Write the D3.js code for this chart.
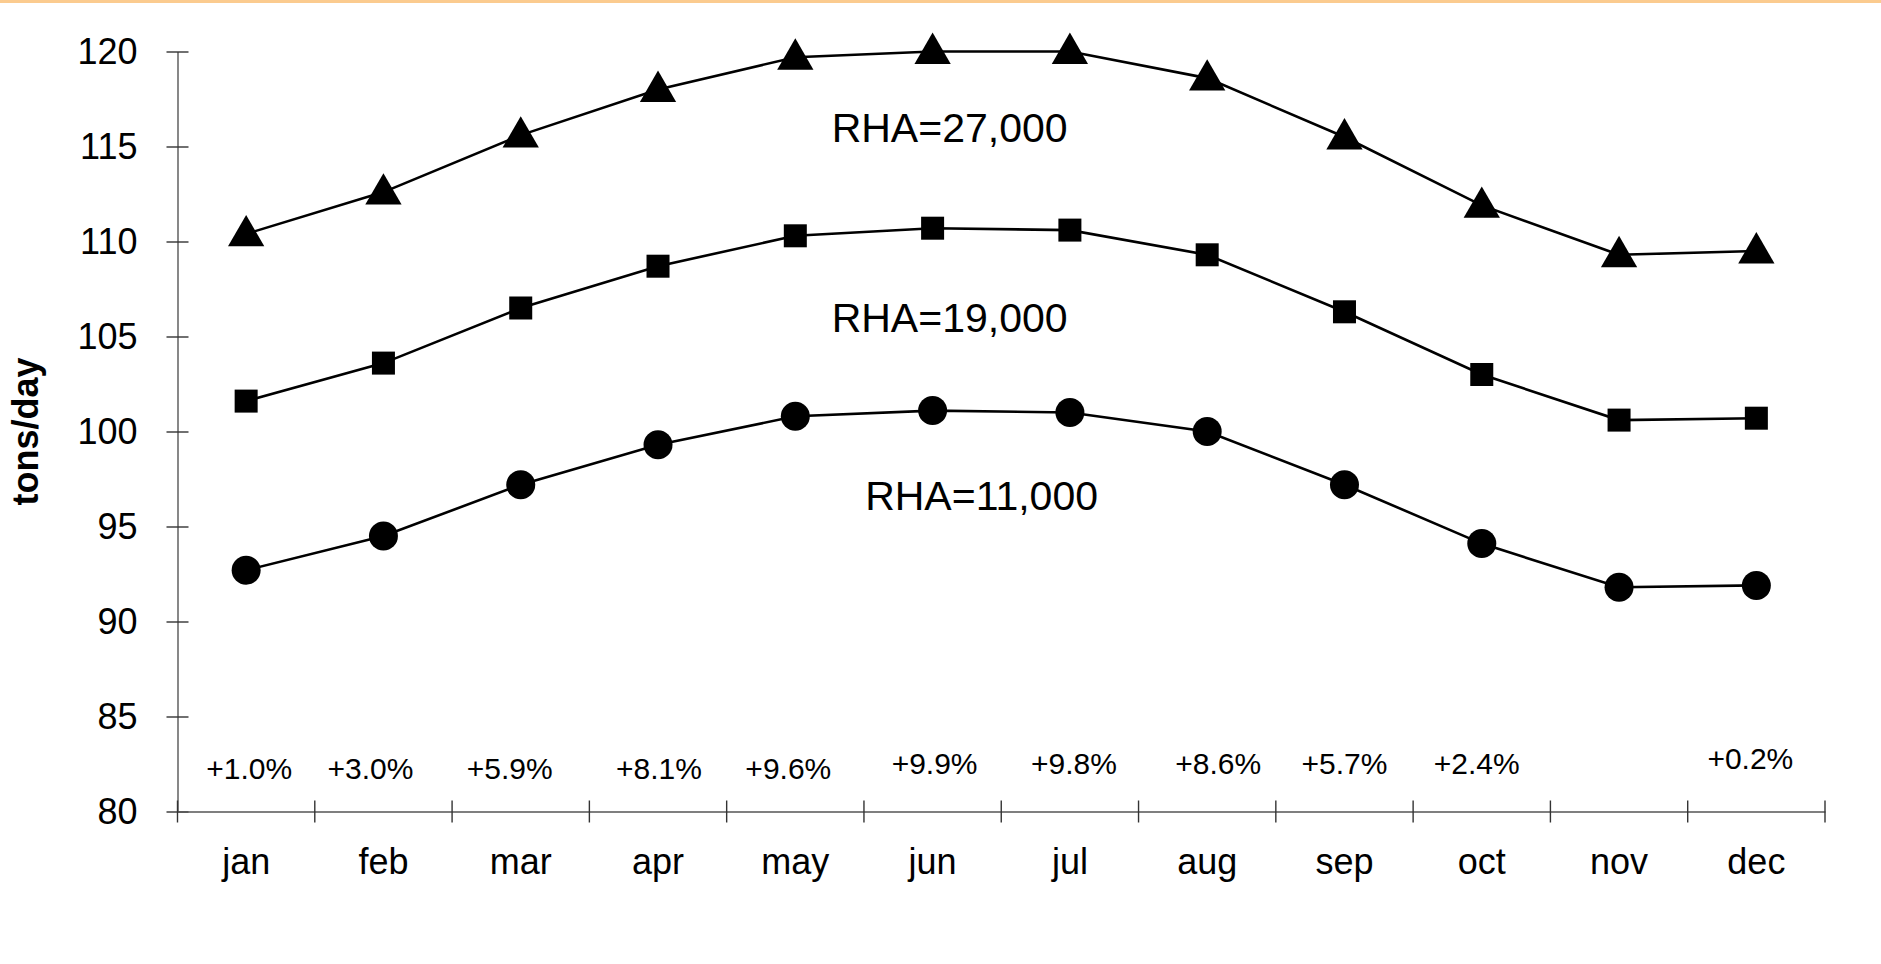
<!DOCTYPE html>
<html>
<head>
<meta charset="utf-8">
<script src="https://cdn.jsdelivr.net/npm/d3@7/dist/d3.min.js"></script>
<style>
  html, body { margin: 0; padding: 0; background: #fff; }
  svg { display: block; font-family: Arial, "Liberation Sans", sans-serif; }
</style>
</head>
<body>
<svg id="chart" width="1881" height="964"></svg>
<script>
const months = ["jan","feb","mar","apr","may","jun","jul","aug","sep","oct","nov","dec"];
const rha27000 = [110.4, 112.6, 115.6, 118.0, 119.7, 120.0, 120.0, 118.6, 115.5, 111.9, 109.3, 109.5];
const rha19000 = [101.6, 103.6, 106.5, 108.7, 110.3, 110.7, 110.6, 109.3, 106.3, 103.0, 100.6, 100.7];
const rha11000 = [92.7, 94.5, 97.2, 99.3, 100.8, 101.1, 101.0, 100.0, 97.2, 94.1, 91.8, 91.9];
const pctLabels = ["+1.0%","+3.0%","+5.9%","+8.1%","+9.6%","+9.9%","+9.8%","+8.6%","+5.7%","+2.4%","","+0.2%"];
const yTicks = [80, 85, 90, 95, 100, 105, 110, 115, 120];
const seriesNames = ["RHA=27,000", "RHA=19,000", "RHA=11,000"];

(function () {
const svg = d3.select("#chart");
const W = 1881, H = 964;

// top orange rule
svg.append("rect").attr("x", 0).attr("y", 0).attr("width", W).attr("height", 3).attr("fill", "#FBCB8F");

const mLeft = 177.5, mRight = 1825, mTop = 51.5, mBottom = 811.5;

const x = d3.scaleBand().domain(months).range([mLeft, mRight]).padding(0);
const y = d3.scaleLinear().domain([80, 120]).range([mBottom, mTop]);
const cx = m => x(m) + x.bandwidth() / 2;

// Y axis
const yAxis = svg.append("g").attr("transform", `translate(${mLeft},0)`)
  .call(d3.axisLeft(y).tickValues(yTicks).tickSize(0).tickPadding(40));
yAxis.select(".domain").attr("stroke", "#555").attr("stroke-width", 1.4);
yAxis.selectAll(".tick text").attr("font-size", 36).attr("fill", "#000")
  .attr("font-family", "Arial, 'Liberation Sans', sans-serif");
yAxis.selectAll(".tick").append("line")
  .attr("x1", -11).attr("x2", 11).attr("y1", 0).attr("y2", 0)
  .attr("stroke", "#333").attr("stroke-width", 1.4);

// X axis
const xAxis = svg.append("g").attr("transform", `translate(0,${mBottom})`)
  .call(d3.axisBottom(x).tickSize(0).tickPadding(37));
xAxis.select(".domain").attr("stroke", "#555").attr("stroke-width", 1.4);
xAxis.selectAll(".tick text").attr("font-size", 36).attr("fill", "#000")
  .attr("font-family", "Arial, 'Liberation Sans', sans-serif");
const bounds = months.map(m => x(m)).concat([mRight]);
xAxis.selectAll(".bound").data(bounds).enter().append("line")
  .attr("class", "bound")
  .attr("x1", d => d).attr("x2", d => d).attr("y1", -11).attr("y2", 11)
  .attr("stroke", "#333").attr("stroke-width", 1.4);

// Y axis title
svg.append("text")
  .attr("transform", `translate(38,${(mTop + mBottom) / 2}) rotate(-90)`)
  .attr("text-anchor", "middle")
  .attr("font-size", 36).attr("font-weight", "bold")
  .text("tons/day");

// lines
const line = d3.line().x((d, i) => cx(months[i])).y(d => y(d));
[rha27000, rha19000, rha11000].forEach(s => {
  svg.append("path").datum(s).attr("d", line)
    .attr("fill", "none").attr("stroke", "#000").attr("stroke-width", 2.6);
});

// markers
const tri = d3.symbol().type(d3.symbolTriangle).size(570);
svg.selectAll(".tri").data(rha27000).enter().append("path")
  .attr("d", tri)
  .attr("transform", (d, i) => `translate(${cx(months[i])},${y(d) + 2})`)
  .attr("fill", "#000");
svg.selectAll(".sq").data(rha19000).enter().append("rect")
  .attr("x", (d, i) => cx(months[i]) - 11.5).attr("y", d => y(d) - 11.5)
  .attr("width", 23).attr("height", 23).attr("fill", "#000");
svg.selectAll(".circ").data(rha11000).enter().append("circle")
  .attr("cx", (d, i) => cx(months[i])).attr("cy", d => y(d))
  .attr("r", 14.5).attr("fill", "#000");

// series labels
const labelPos = [
  { v: 115.25, m: "jun", dx: 17 },
  { v: 105.25, m: "jun", dx: 17 },
  { v: 95.85,  m: "jun", dx: 49 }
];
seriesNames.forEach((n, i) => {
  svg.append("text")
    .attr("x", cx(labelPos[i].m) + labelPos[i].dx)
    .attr("y", y(labelPos[i].v))
    .attr("text-anchor", "middle")
    .attr("font-size", 41)
    .text(n);
});

// percent labels (text boxes slightly offset from band centres, as in the original)
const pctNudge = [3, -13, -11, 1, -7, 2, 4, 11, 0, -5, 0, -6];
svg.selectAll(".pct").data(pctLabels).enter().append("text")
  .attr("x", (d, i) => cx(months[i]) + pctNudge[i])
  .attr("y", (d, i) => y(i < 5 ? 81.7 : (i < 11 ? 82.0 : 82.25)))
  .attr("text-anchor", "middle")
  .attr("font-size", 30)
  .text(d => d);
})();
</script>
</body>
</html>
